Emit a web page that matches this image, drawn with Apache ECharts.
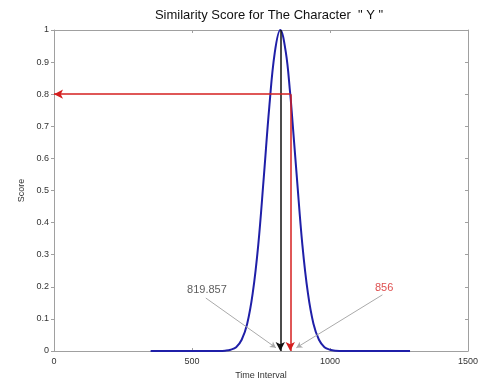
<!DOCTYPE html>
<html><head><meta charset="utf-8">
<script src="https://cdn.jsdelivr.net/npm/echarts@6/dist/echarts.min.js"></script>
<style>html,body{margin:0;padding:0;background:#fff}#c{width:484px;height:385px}</style>
</head><body><div id="c"></div>
<script>
// Data
const timeValues  = [350, 600, 620, 640, 660, 680, 700, 720, 740, 760, 780, 800, 820, 840, 856, 860, 880, 900, 920, 940, 960, 980, 1000, 1020, 1050, 1290];
const scoreValues = [0, 0, 0.001, 0.004, 0.012, 0.035, 0.085, 0.18, 0.33, 0.54, 0.76, 0.93, 1.0, 0.93, 0.8, 0.76, 0.54, 0.33, 0.18, 0.085, 0.035, 0.012, 0.004, 0.001, 0, 0];
const peakTime = 819.857;
const thresholdTime = 856;
const thresholdScore = 0.8;
const xTicks = [0, 500, 1000, 1500];
const yTicks = [0, 0.1, 0.2, 0.3, 0.4, 0.5, 0.6, 0.7, 0.8, 0.9, 1];
// annotation label anchors [x, y] in data units
const peakLabelPos = [554, 0.19];
const peakLineStart = [550, 0.165];
const peakLineEnd = [804, 0.01];
const threshLabelPos = [1196, 0.195];
const threshLineStart = [1190, 0.175];
const threshLineEnd = [878, 0.01];

const curve = timeValues.map((t, i) => [t, scoreValues[i]]);
const axisGray = '#a0a0a0';
const font = 'Liberation Sans, Arial, sans-serif';
const pick = (list, v) => { const t = list.find(k => Math.abs(k - v) < 1e-6); return t === undefined ? '' : String(t); };

const chart = echarts.init(document.getElementById('c'));
chart.setOption({
  animation: false,
  title: {
    text: 'Similarity Score for The Character  " Y "',
    left: 264, top: 4, textAlign: 'center',
    textStyle: {fontFamily: font, fontSize: 13, fontWeight: 'normal', color: '#111'}
  },
  grid: {left: 54, right: 16, top: 30, bottom: 30},
  xAxis: [{
    type: 'value', min: 0, max: 1500, interval: 500,
    name: 'Time Interval', nameLocation: 'middle', nameGap: 20,
    nameTextStyle: {fontFamily: font, fontSize: 9, color: '#333'},
    axisLine: {show: true, onZero: false, lineStyle: {color: axisGray}},
    axisTick: {show: true, inside: true, length: 3, lineStyle: {color: axisGray}},
    axisLabel: {fontFamily: font, fontSize: 9, color: '#333', margin: 6, formatter: v => pick(xTicks, v)},
    splitLine: {show: false}
  }, {
    type: 'value', position: 'top', min: 0, max: 1500, interval: 500,
    axisLine: {show: true, onZero: false, lineStyle: {color: axisGray}},
    axisTick: {show: true, inside: true, length: 3, lineStyle: {color: axisGray}},
    axisLabel: {show: false}, splitLine: {show: false}
  }],
  yAxis: [{
    type: 'value', min: 0, max: 1, interval: 0.1,
    name: 'Score', nameLocation: 'middle', nameGap: 27, nameRotate: 90,
    nameTextStyle: {fontFamily: font, fontSize: 9, color: '#333'},
    axisLine: {show: true, onZero: false, lineStyle: {color: axisGray}},
    axisTick: {show: true, inside: false, length: 3, lineStyle: {color: axisGray}},
    axisLabel: {fontFamily: font, fontSize: 9, color: '#333', margin: 5, formatter: v => pick(yTicks, v)},
    splitLine: {show: false}
  }, {
    type: 'value', position: 'right', min: 0, max: 1, interval: 0.1,
    axisLine: {show: true, onZero: false, lineStyle: {color: axisGray}},
    axisTick: {show: true, inside: true, length: 3, lineStyle: {color: axisGray}},
    axisLabel: {show: false}, splitLine: {show: false}
  }],
  series: [{
    type: 'line', data: curve, smooth: 0.4, symbol: 'none',
    lineStyle: {color: '#1f1fa8', width: 2}, z: 3,
    markLine: {
      silent: true, symbol: ['none', 'arrow'], symbolSize: [7, 9], animation: false,
      label: {show: false},
      data: [
        [{coord: [peakTime, 1], lineStyle: {color: '#111', width: 1.5, type: 'solid'}}, {coord: [peakTime, 0]}],
        [{coord: [thresholdTime, thresholdScore], lineStyle: {color: '#d41f1f', width: 1.5, type: 'solid'}}, {coord: [thresholdTime, 0]}],
        [{coord: [thresholdTime, thresholdScore], lineStyle: {color: '#d41f1f', width: 1.5, type: 'solid'}}, {coord: [0, thresholdScore]}]
      ]
    }
  }, {
    type: 'line', data: [], symbol: 'none',
    markLine: {
      silent: true, symbol: ['none', 'arrow'], symbolSize: [5, 6], animation: false,
      label: {show: false},
      data: [
        [{coord: peakLineStart, lineStyle: {color: '#aaaaaa', width: 1, type: 'solid'}}, {coord: peakLineEnd}],
        [{coord: threshLineStart, lineStyle: {color: '#aaaaaa', width: 1, type: 'solid'}}, {coord: threshLineEnd}]
      ]
    }
  }, {
    type: 'scatter', symbolSize: 0, silent: true,
    data: [
      {value: peakLabelPos, label: {show: true, formatter: String(peakTime), color: '#333'}},
      {value: threshLabelPos, label: {show: true, formatter: String(thresholdTime), color: '#d41f1f'}}
    ],
    label: {position: 'inside', fontFamily: font, fontSize: 11}
  }]
});
</script></body></html>
